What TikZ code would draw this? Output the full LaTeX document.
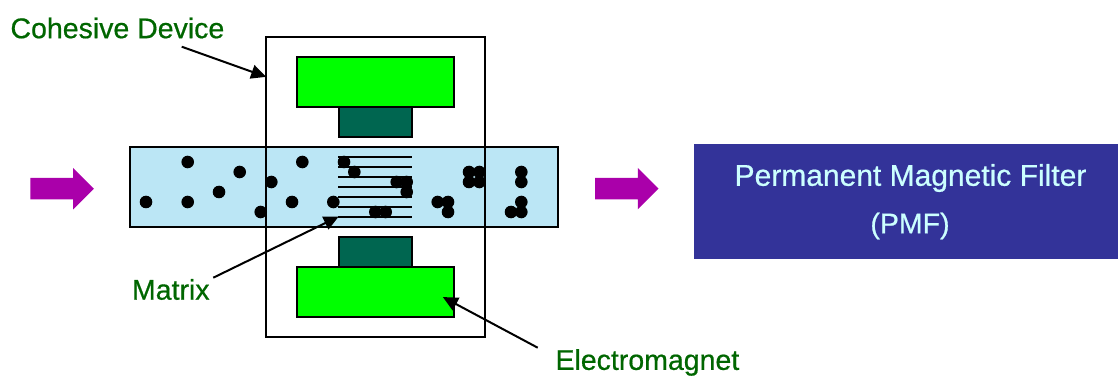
\documentclass[tikz,border=0pt]{standalone}
\usepackage{fontspec}
\setmainfont{Liberation Sans}
\newfontfamily\heavyfont[FakeBold=0.6]{Liberation Sans}
\usetikzlibrary{arrows.meta,shapes.arrows}
\definecolor{lightmag}{HTML}{00FF00}
\definecolor{darkmag}{HTML}{006650}
\definecolor{bandblue}{HTML}{BBE6F5}
\definecolor{filterblue}{HTML}{333399}
\definecolor{filtertext}{HTML}{CCFFFF}
\definecolor{labelgreen}{HTML}{006600}
\definecolor{flowpurple}{HTML}{AA00AA}
\begin{document}
\begin{tikzpicture}[x=1pt,y=-1pt,line width=2pt]
\tikzstyle{part}=[draw,inner sep=0pt,outer sep=0pt,anchor=north west]
\tikzstyle{lab}=[text=labelgreen,font=\heavyfont\fontsize{28.5}{34}\selectfont,anchor=west,inner sep=0pt]
\tikzstyle{filterlab}=[text=filtertext,font=\heavyfont\fontsize{28.5}{34}\selectfont,inner sep=0pt]
\tikzstyle{pointer}=[-{Triangle[length=15pt,width=14pt]},line width=2pt,shorten >=-0.5pt]
\tikzstyle{flow}=[fill=flowpurple,draw=none,single arrow,single arrow head extend=10pt,single arrow tip angle=90,inner xsep=0pt,inner ysep=9.75pt,outer sep=0pt,minimum height=63.5pt,anchor=west]
\useasboundingbox (0,0) rectangle (1118,379);
\node[part,fill=bandblue,minimum width=428pt,minimum height=80pt] (band) at (130,147) {};
\node[part,minimum width=219.5pt,minimum height=300pt] (device) at (265.5,37) {};
\node[part,fill=lightmag,minimum width=157pt,minimum height=50pt] (topmag) at (297,57) {};
\node[part,fill=darkmag,minimum width=73.5pt,minimum height=30pt] (toppole) at (338.5,107) {};
\node[part,fill=darkmag,minimum width=73.5pt,minimum height=30pt] (botpole) at (338.5,237) {};
\node[part,fill=lightmag,minimum width=157pt,minimum height=50pt] (botmag) at (297,267) {};
\foreach \y in {156.7,166.7,...,227}
  \draw (338,\y)--(412,\y);
\foreach \x/\y in {187.7/162,239.7/172,271.3/182,219/192,146/202,187.7/202,292/202,333.3/202,260.7/212,302.3/162,344/162,354.3/172,396.7/182,406.7/182,406.7/192,375.3/212,385.7/212,437.7/202,448/202,448/212,469/172,479.3/172,469/182,479.3/182,521.3/172,521.3/182,521.3/202,511/212,521.3/212}
  \fill (\x,\y) circle (6.3pt);
\node[flow] (inflow) at (30.3,188.7) {};
\node[flow] (outflow) at (595,188.7) {};
\node[part,draw=none,fill=filterblue,minimum width=424pt,minimum height=115pt] (filter) at (694,144) {};
\node[filterlab,font=\heavyfont\fontsize{30}{36}\selectfont] (filtername) at (910.5,178) {Permanent Magnetic Filter};
\node[filterlab] (filterabbr) at (910,226) {(PMF)};
\node[lab] (cohesive) at (9.5,28) {Cohesive Device};
\node[lab] (matrix) at (131,289.5) {Matrix};
\node[lab] (electro) at (554.5,362.5) {Electromagnet};
\coordinate (cohtail) at (181.7,46.7);
\coordinate (cohtip) at (265.7,76.7);
\coordinate (mattail) at (213.3,277.7);
\coordinate (mattip) at (338.3,216.7);
\coordinate (eltail) at (537.7,347.7);
\coordinate (eltip) at (443.3,297.3);
\draw[pointer] (cohtail)--(cohtip);
\draw[pointer] (mattail)--(mattip);
\draw[pointer] (eltail)--(eltip);
\end{tikzpicture}
\end{document}
